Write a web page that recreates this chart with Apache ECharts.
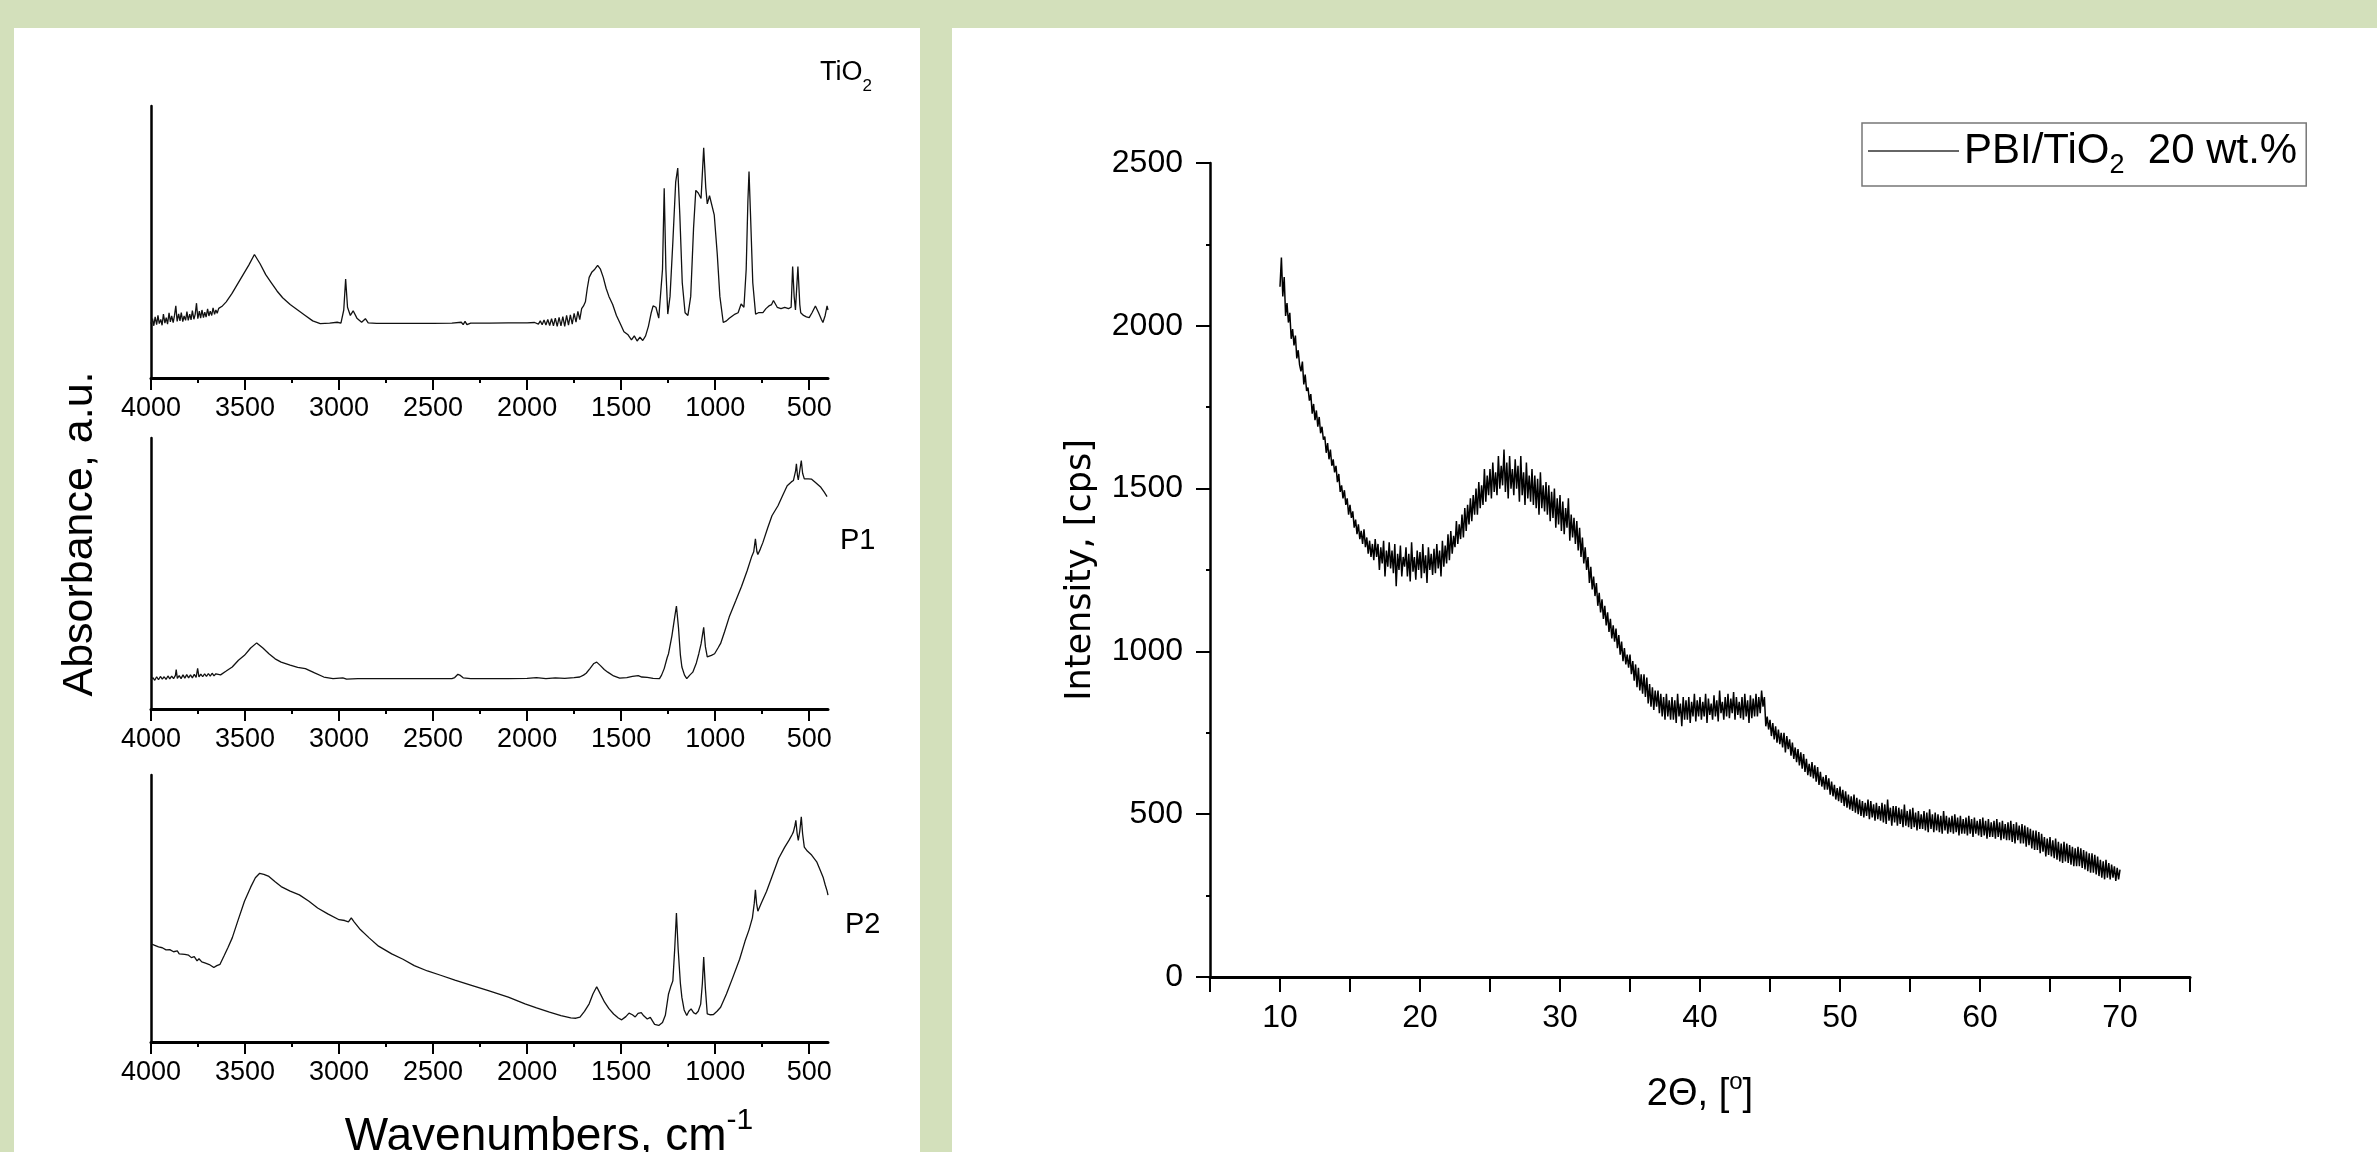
<!DOCTYPE html>
<html><head><meta charset="utf-8">
<script src="https://cdn.jsdelivr.net/npm/echarts@6/dist/echarts.min.js"></script>
<style>
html,body{margin:0;padding:0;background:#d3e0bb;width:2377px;height:1152px;overflow:hidden}
.panel{position:absolute;background:#fff}
#chart{position:absolute;left:0;top:0;width:2377px;height:1152px}
</style></head><body>
<div class="panel" style="left:14px;top:28px;width:906px;height:1124px"></div>
<div class="panel" style="left:952px;top:28px;width:1425px;height:1124px"></div>
<div id="chart"></div>
<script>
const FONT = '"Liberation Sans", Arial, sans-serif';
const WIDE = '"DejaVu Sans", Verdana, sans-serif';

// FTIR tick values (cm-1)
const ftirMajor = [4000, 3500, 3000, 2500, 2000, 1500, 1000, 500];
const ftirMinor = [3750, 3250, 2750, 2250, 1750, 1250, 750];

// FTIR spectra: [wavenumber, absorbance (arb. units, 0-100 of panel)]
const tio2 = [[4000,20],[3992,21.8],[3985,19.2],[3978,22.5],[3970,19.6],[3963,23],[3956,20],[3948,21.5],[3941,19.4],[3934,23.5],[3926,20.2],[3919,22.2],[3912,19.8],[3904,24],[3897,20.6],[3890,22.8],[3882,20.4],[3875,23],[3868,26.5],[3861,20.8],[3853,23.6],[3846,21],[3839,24],[3831,20.7],[3824,22.8],[3816,21.2],[3809,24.4],[3802,21.2],[3794,23.5],[3787,21.4],[3780,24.8],[3772,21.6],[3765,23.4],[3758,27.5],[3751,21.8],[3743,24.6],[3736,22],[3729,25],[3721,22.2],[3714,24.2],[3707,22.4],[3699,25.4],[3692,22.8],[3685,24.6],[3677,23],[3670,25.8],[3662,23.4],[3655,25],[3648,23.8],[3640,25.6],[3630,25],[3620,26.5],[3610,27],[3600,28],[3570,31],[3540,34.5],[3510,38],[3480,41.5],[3450,45.4],[3420,42],[3390,38],[3360,35],[3330,32],[3300,29.5],[3260,27],[3220,25],[3180,23],[3140,21],[3100,20],[3050,20.2],[3010,20.5],[2990,20.2],[2975,25],[2965,36.4],[2955,26],[2940,23],[2925,24.7],[2905,22],[2880,20.5],[2860,21.8],[2845,20.3],[2800,20.1],[2700,20.1],[2600,20.1],[2500,20.1],[2400,20.2],[2350,20.5],[2340,19.6],[2330,20.8],[2320,19.6],[2300,20.2],[2200,20.2],[2100,20.3],[2000,20.3],[1960,20.4],[1950,20.9],[1940,19.8],[1930,21],[1920,19.6],[1910,21.3],[1900,19.5],[1890,21.5],[1880,19.3],[1870,21.8],[1860,19.2],[1850,22],[1840,19],[1830,22.3],[1820,19.2],[1810,22.6],[1800,19],[1790,23],[1780,19.4],[1770,23.2],[1760,19.8],[1750,23.8],[1740,20.5],[1730,24.5],[1720,21.5],[1710,25.5],[1700,26.5],[1690,28],[1680,33],[1670,37],[1655,39],[1640,40],[1625,41.4],[1610,40],[1595,37],[1580,33],[1565,30],[1545,27],[1525,23],[1505,20],[1485,17],[1465,16],[1445,14],[1430,15.5],[1415,13.6],[1400,15],[1385,13.8],[1370,15.5],[1355,19],[1340,24],[1330,26.5],[1315,26],[1300,22],[1290,21.6],[1280,40],[1271,69.8],[1262,40],[1252,23.5],[1240,30],[1225,50],[1210,72],[1199,77.2],[1188,60],[1175,35],[1160,24],[1145,23],[1130,30],[1115,55],[1103,69],[1090,68],[1075,66],[1061,84.6],[1050,70],[1042,64],[1030,67],[1020,67.3],[1005,60],[989,45.7],[975,30],[957,20.4],[940,21],[925,22],[905,23],[894,23.5],[878,24],[862,27.2],[847,26],[835,40],[826,65],[820,75.9],[812,60],[800,35],[785,23.5],[770,24],[746,24],[730,25.5],[714,26.5],[700,27],[690,28.5],[682,27.8],[670,26],[650,25.5],[630,26],[610,25.5],[596,26],[588,41],[580,30],[573,25],[560,41],[550,27],[545,24],[530,23],[515,22.5],[500,22.2],[485,24],[467,26.5],[450,24],[435,21.5],[427,20.4],[415,23],[405,26.5],[400,25]];

const p1 = [[4000,10.8],[3990,11.6],[3980,10.6],[3970,11.9],[3960,10.8],[3950,12],[3940,11],[3930,11.9],[3920,10.9],[3910,12.2],[3900,11.1],[3890,12.1],[3880,11.2],[3870,12.4],[3866,14.5],[3860,11.3],[3850,12.3],[3840,11.2],[3830,12.6],[3820,11.4],[3810,12.7],[3800,11.5],[3790,12.6],[3780,11.5],[3770,12.8],[3760,11.7],[3752,15],[3745,11.8],[3735,12.9],[3725,11.9],[3715,13],[3705,12],[3695,13.1],[3685,12.1],[3675,13.2],[3665,12.2],[3655,13],[3645,12.4],[3630,12.6],[3600,14],[3568,15.5],[3535,18],[3503,19.8],[3470,22.5],[3438,24.4],[3405,22.5],[3373,20.4],[3340,18.5],[3308,17.3],[3260,16.2],[3220,15.4],[3179,14.9],[3130,13.3],[3081,11.8],[3032,11.2],[2980,11.5],[2960,11],[2900,11.2],[2800,11.2],[2700,11.2],[2600,11.2],[2500,11.2],[2400,11.2],[2385,11.6],[2368,12.8],[2355,12.4],[2340,11.5],[2300,11.2],[2200,11.2],[2100,11.2],[2000,11.3],[1950,11.6],[1900,11.2],[1850,11.5],[1800,11.3],[1750,11.6],[1720,11.8],[1700,12.5],[1686,13.2],[1665,15],[1645,16.8],[1630,17.3],[1610,16],[1590,14.6],[1571,13.6],[1540,12.2],[1508,11.4],[1470,11.6],[1440,12],[1409,12.3],[1390,11.8],[1361,11.7],[1330,11.3],[1296,11.2],[1285,12.5],[1271,14.9],[1255,19],[1248,20.4],[1230,27],[1215,34],[1206,38],[1195,30],[1185,20],[1177,15.5],[1163,12.5],[1151,11.2],[1135,12.5],[1119,13.6],[1100,17],[1087,20.4],[1075,24],[1061,30.1],[1052,23],[1042,19.2],[1020,19.8],[1003,20.4],[985,22.5],[971,24.2],[950,28.5],[925,34],[890,40],[860,45.2],[830,51],[805,56.4],[795,58],[786,62.8],[778,58],[773,57],[760,59],[747,61.3],[720,67],[698,71.3],[666,75],[640,79],[617,82.4],[595,83.8],[584,84.3],[572,88],[568,90.5],[562,86],[558,84.5],[550,88],[542,91.7],[535,87],[526,84.9],[505,84.9],[487,84.8],[465,83.5],[438,81.8],[420,80],[405,78.4]];

const p2 = [[4000,36.8],[3980,36.2],[3960,35.6],[3940,35.3],[3920,34.5],[3900,34.6],[3880,33.8],[3860,34.1],[3850,33],[3840,33.6],[3820,32.8],[3800,32.5],[3785,31.6],[3770,32],[3755,30.4],[3745,31.2],[3730,30],[3710,29.5],[3690,29],[3666,27.9],[3650,28.6],[3633,29.1],[3610,32.5],[3590,35.5],[3568,39],[3540,45],[3503,52.7],[3470,58],[3445,61.5],[3422,63.2],[3400,62.8],[3373,62],[3340,60],[3308,58.2],[3260,56.5],[3211,55.1],[3160,52.7],[3114,50.2],[3060,48],[3000,45.8],[2970,45.5],[2950,45],[2935,46.5],[2920,45],[2887,42.1],[2840,39],[2790,35.9],[2720,33],[2660,31],[2600,28.6],[2530,26.6],[2460,25],[2384,23.2],[2300,21.3],[2206,19.2],[2100,16.8],[2011,14.3],[1950,12.8],[1881,11.2],[1820,9.9],[1768,9],[1740,8.9],[1719,9.3],[1695,11.5],[1670,14.3],[1650,18],[1630,20.7],[1612,18.2],[1588,14.9],[1565,12.5],[1540,10.5],[1515,9],[1497,8.3],[1475,9.5],[1458,10.8],[1440,10.2],[1425,9.4],[1410,10.7],[1393,11],[1380,9.8],[1361,8.6],[1345,9.2],[1322,6.6],[1300,6.2],[1280,7.3],[1265,10],[1248,18],[1235,21],[1225,22.9],[1215,35],[1206,48.3],[1197,35],[1185,22],[1177,16.7],[1165,12],[1151,9.9],[1140,11.5],[1128,12.4],[1115,11],[1103,10.5],[1090,11.5],[1077,14.2],[1068,22],[1061,31.8],[1052,20],[1042,10.5],[1025,10.2],[1009,10.3],[990,11.5],[971,13],[940,18],[906,24.2],[870,31],[841,37.8],[820,42],[802,46.5],[792,52],[786,57],[780,52],[773,49],[755,52],[727,56.4],[700,61.5],[662,68.8],[630,73],[607,75.6],[590,77.8],[584,78.7],[576,81],[571,83],[564,78],[558,75.5],[550,79],[542,84.3],[535,78],[526,73],[510,71.5],[487,70],[460,67.5],[438,63.8],[425,61.5],[415,58.9],[405,56.6],[400,55]];

// XRD pattern: 2theta from 10 to 70 deg, step 0.1 deg; intensity in cps
const xrdStart = 10;
const xrdStep = 0.1;
const xrdIntensity = [
2120,2210,2090,2150,2030,2070,2010,2040,1960,1990,
1940,1970,1900,1925,1880,1860,1890,1820,1850,1800,
1810,1770,1790,1730,1760,1710,1740,1690,1720,1670,
1690,1650,1660,1610,1640,1590,1620,1570,1590,1550,
1570,1520,1545,1490,1510,1470,1495,1450,1470,1420,
1450,1410,1430,1380,1405,1360,1390,1345,1370,1330,
1375,1320,1350,1300,1340,1290,1330,1280,1345,1290,
1330,1250,1320,1270,1340,1230,1310,1260,1335,1255,
1310,1240,1330,1200,1300,1250,1325,1230,1290,1260,
1320,1230,1300,1215,1335,1245,1290,1220,1310,1250,
1305,1225,1330,1240,1295,1210,1320,1250,1300,1235,
1315,1240,1330,1255,1310,1230,1340,1260,1325,1270,
1360,1280,1370,1300,1355,1320,1400,1330,1390,1345,
1420,1350,1440,1370,1450,1390,1470,1400,1480,1420,
1500,1420,1520,1440,1510,1450,1560,1460,1540,1480,
1560,1470,1580,1490,1550,1480,1600,1500,1570,1510,
1620,1490,1580,1470,1600,1500,1560,1480,1590,1500,
1570,1460,1600,1480,1550,1450,1580,1470,1540,1460,
1560,1450,1540,1440,1530,1420,1550,1440,1510,1430,
1520,1420,1510,1400,1490,1410,1500,1380,1470,1390,
1480,1370,1460,1360,1440,1380,1470,1340,1420,1350,
1410,1330,1400,1310,1380,1290,1350,1270,1320,1250,
1290,1210,1260,1190,1230,1170,1210,1140,1180,1120,
1160,1100,1140,1080,1120,1060,1100,1040,1080,1030,
1070,1010,1050,990,1030,970,1010,960,990,950,
990,930,970,910,960,890,950,880,930,870,
930,860,920,840,900,830,890,820,880,830,
880,810,870,800,860,790,870,800,850,790,
860,790,850,780,870,800,840,770,860,790,
850,790,860,780,845,800,870,785,850,800,
860,790,845,800,870,780,855,805,840,790,
865,800,850,785,880,810,845,790,860,800,
870,795,855,810,875,790,860,805,845,795,
860,790,870,800,850,780,865,795,855,800,
870,800,860,810,880,830,860,770,800,760,
790,740,780,730,770,720,760,715,750,705,
750,690,740,700,730,680,720,670,705,660,
700,650,690,640,685,630,670,620,655,615,
660,610,650,600,645,590,630,585,615,575,
620,575,610,560,600,555,590,545,580,540,
585,535,575,525,570,520,560,515,555,510,
560,505,550,500,545,495,540,490,535,495,
545,485,540,490,530,480,535,485,525,480,
535,475,530,470,545,480,520,465,525,475,
525,465,520,470,515,460,530,465,510,460,
515,455,520,460,505,450,510,455,500,455,
510,450,505,445,515,455,500,445,505,450,
500,445,495,440,510,450,495,440,490,445,
495,440,500,445,490,435,495,440,485,440,
490,435,495,440,485,430,490,440,480,435,
485,430,490,435,480,425,485,430,475,430,
480,425,485,430,475,420,480,425,470,420,
475,420,480,415,470,410,475,420,465,410,
470,410,465,400,460,405,455,395,450,390,
450,390,445,380,440,385,430,370,425,375,
430,370,420,365,425,360,415,355,410,350,
415,355,410,350,405,345,400,340,395,340,
400,340,395,335,390,330,385,325,380,320,
380,320,375,315,370,310,360,305,355,300,
360,305,350,300,345,305,340,295,335,300,
330];
const xrdLabelTicks = [10, 20, 30, 40, 50, 60, 70];
const xrdName = 'PBI/TiO2  20 wt.%';

const chart = echarts.init(document.getElementById('chart'), null, {renderer: 'canvas'});
const plain = v => String(v);

const ftirGrids = [
  {left: 151, top: 106, width: 677, height: 272},
  {left: 151, top: 438, width: 677, height: 271},
  {left: 151, top: 775, width: 677, height: 267}
];
const ftirData = [tio2, p1, p2];
const ftirNames = ['TiO2', 'P1', 'P2'];

const grids = ftirGrids.concat([{left: 1210, top: 163, width: 980, height: 814}]);
const xAxes = [], yAxes = [], series = [];

ftirGrids.forEach((g, i) => {
  xAxes.push({
    gridIndex: i, type: 'value', min: 400, max: 4000, inverse: true, position: 'bottom',
    axisLine: {show: true, onZero: false, lineStyle: {color: '#000', width: 3}},
    axisTick: {show: true, customValues: ftirMajor, length: 12, lineStyle: {color: '#000', width: 2}},
    axisLabel: {show: true, customValues: ftirMajor, formatter: plain, fontSize: 27, color: '#000', fontFamily: FONT, margin: 17},
    splitLine: {show: false}
  });
  xAxes.push({
    gridIndex: i, type: 'value', min: 400, max: 4000, inverse: true, position: 'bottom',
    axisLine: {show: false, onZero: false},
    axisTick: {show: true, customValues: ftirMinor, length: 5, lineStyle: {color: '#000', width: 2}},
    axisLabel: {show: false},
    splitLine: {show: false}
  });
  yAxes.push({
    gridIndex: i, type: 'value', min: 0, max: 100,
    axisLine: {show: true, lineStyle: {color: '#000', width: 2.5}},
    axisTick: {show: false}, axisLabel: {show: false}, splitLine: {show: false}
  });
  series.push({
    name: ftirNames[i], type: 'line', xAxisIndex: 2 * i, yAxisIndex: i,
    data: ftirData[i], showSymbol: false, symbol: 'none', silent: true,
    lineStyle: {color: '#111', width: 1.3}
  });
});

xAxes.push({
  gridIndex: 3, type: 'value', min: 5, max: 75, interval: 5, position: 'bottom',
  axisLine: {show: true, onZero: false, lineStyle: {color: '#000', width: 3}},
  axisTick: {show: true, length: 15, lineStyle: {color: '#000', width: 2}},
  axisLabel: {show: true, customValues: xrdLabelTicks, formatter: plain, fontSize: 32, color: '#000', fontFamily: FONT, margin: 25},
  splitLine: {show: false},
  name: '{a|2\u0398, [}{u|o}{a|]}',
  nameLocation: 'middle', nameGap: 93,
  nameTextStyle: {
    fontFamily: FONT, color: '#000',
    rich: {
      a: {fontSize: 38, fontFamily: FONT, color: '#000', lineHeight: 44, verticalAlign: 'bottom'},
      u: {fontSize: 24, fontFamily: FONT, color: '#000', lineHeight: 44, verticalAlign: 'top'}
    }
  }
});
yAxes.push({
  gridIndex: 3, type: 'value', min: 0, max: 2500, interval: 500,
  axisLine: {show: true, onZero: false, lineStyle: {color: '#000', width: 2.5}},
  axisTick: {show: true, length: 14, lineStyle: {color: '#000', width: 2}},
  minorTick: {show: true, splitNumber: 2, length: 4, lineStyle: {color: '#000', width: 2}},
  axisLabel: {show: true, formatter: plain, fontSize: 32, color: '#000', fontFamily: FONT, margin: 27},
  splitLine: {show: false},
  name: 'Intensity, [cps]', nameLocation: 'middle', nameGap: 112, nameRotate: 90,
  nameTextStyle: {fontSize: 35, fontFamily: WIDE, color: '#000'}
});
series.push({
  name: xrdName, type: 'line', xAxisIndex: 6, yAxisIndex: 3,
  data: xrdIntensity.map((v, i) => [+(xrdStart + i * xrdStep).toFixed(2), v]),
  showSymbol: false, symbol: 'none', silent: true,
  lineStyle: {color: '#000', width: 1.5}
});

const option = {
  animation: false,
  backgroundColor: 'transparent',
  grid: grids,
  xAxis: xAxes,
  yAxis: yAxes,
  series: series,
  legend: {
    data: [{name: xrdName, icon: 'rect'}],
    left: 1862, top: 123,
    padding: [7, 9, 7, 6],
    itemWidth: 91, itemHeight: 2,
    itemGap: 0,
    borderColor: '#777', borderWidth: 1.5,
    backgroundColor: '#fff',
    itemStyle: {color: '#666'},
    formatter: () => '{a|PBI/TiO}{s|2}{a|  20 wt.%}',
    textStyle: {
      fontFamily: FONT, color: '#000',
      rich: {
        a: {fontSize: 42, fontFamily: FONT, color: '#000', lineHeight: 56, verticalAlign: 'middle'},
        s: {fontSize: 27, fontFamily: FONT, color: '#000', lineHeight: 27, verticalAlign: 'bottom'}
      }
    }
  },
  graphic: [
    {type: 'text', left: 820, top: 59, silent: true, style: {
      text: '{a|TiO}{s|2}', fill: '#000',
      rich: {
        a: {fontSize: 27, fontFamily: FONT, fill: '#000', lineHeight: 36, verticalAlign: 'top'},
        s: {fontSize: 17, fontFamily: FONT, fill: '#000', lineHeight: 36, verticalAlign: 'bottom'}
      }}},
    {type: 'text', left: 840, top: 526, silent: true, style: {text: 'P1', fontSize: 29, fontFamily: FONT, fill: '#000'}},
    {type: 'text', left: 845, top: 910, silent: true, style: {text: 'P2', fontSize: 29, fontFamily: FONT, fill: '#000'}},
    {type: 'text', x: 80, y: 534, rotation: Math.PI / 2, silent: true, style: {
      text: 'Absorbance, a.u.', fontSize: 43, fontFamily: FONT, fill: '#000', align: 'center', verticalAlign: 'middle'}},
    {type: 'text', x: 549, y: 1133, silent: true, style: {
      text: '{a|Wavenumbers, cm}{u|-1}', fill: '#000', align: 'center', verticalAlign: 'middle',
      rich: {
        a: {fontSize: 46, fontFamily: FONT, fill: '#000', lineHeight: 54, verticalAlign: 'bottom'},
        u: {fontSize: 30, fontFamily: FONT, fill: '#000', lineHeight: 54, verticalAlign: 'top'}
      }}}
  ]
};
chart.setOption(option);
</script>
</body></html>
